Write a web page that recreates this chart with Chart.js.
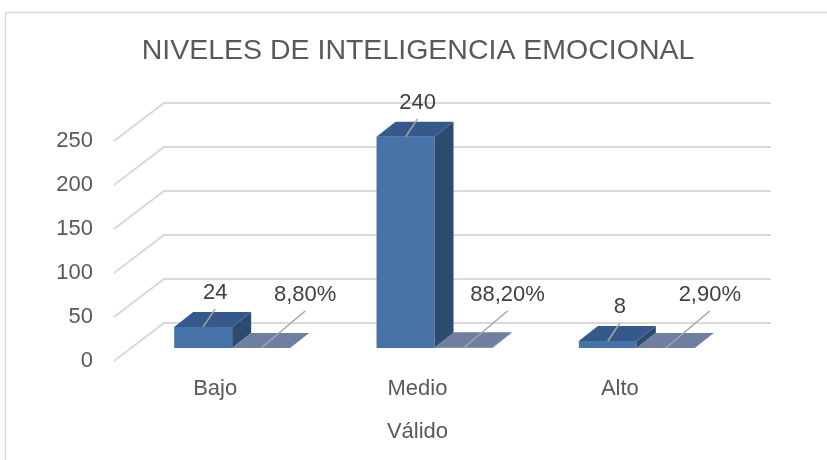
<!DOCTYPE html>
<html>
<head>
<meta charset="utf-8">
<script src="https://cdn.jsdelivr.net/npm/chart.js@4.4.0/dist/chart.umd.min.js"></script>
<style>
  body { margin: 0; background: #fff; }
  #wrap { width: 827px; height: 460px; }
</style>
</head>
<body>
<div id="wrap"><canvas id="chart"></canvas></div>
<script>
const categories = ['Bajo', 'Medio', 'Alto'];
const frecuencia = [24, 240, 8];
const porcentaje = [0.088, 0.882, 0.029];
const yTickValues = [0, 50, 100, 150, 200, 250];
const chartTitle = 'NIVELES DE INTELIGENCIA EMOCIONAL';
const xTitle = 'Válido';

const FONT = "'Liberation Sans', Arial, sans-serif";
// 3D offsets: bar depth, and where the walls sit relative to the bar plane
const DEPTH = { dx: 19, dy: -15 };
const FRONT = { dx: -17, dy: 13 };
const BACK = { dx: 33, dy: -25 };

const faceColors = [
  { top: '#35598A', side: '#2D4A6F' },
  { top: '#6E7FA1', side: '#5A6886' }
];

function poly(ctx, pts, color) {
  ctx.beginPath();
  ctx.moveTo(pts[0][0], pts[0][1]);
  for (let i = 1; i < pts.length; i++) ctx.lineTo(pts[i][0], pts[i][1]);
  ctx.closePath();
  ctx.fillStyle = color;
  ctx.fill();
}

const frame3d = {
  id: 'frame3d',
  beforeDraw(chart) {
    const ctx = chart.ctx;
    ctx.save();
    ctx.fillStyle = '#fff';
    ctx.fillRect(0, 0, chart.width, chart.height);
    ctx.strokeStyle = '#D9D9D9';
    ctx.lineWidth = 1.5;
    ctx.strokeRect(5.5, 12.5, 900, 600);
    // chart title, centred over the back wall
    ctx.font = '28.5px ' + FONT;
    ctx.fillStyle = '#595959';
    ctx.textAlign = 'center';
    ctx.textBaseline = 'middle';
    ctx.fillText(chartTitle, 418, 51);
    ctx.restore();
  },
  beforeDatasetsDraw(chart) {
    const ctx = chart.ctx;
    const y = chart.scales.y;
    const area = chart.chartArea;
    ctx.save();
    ctx.strokeStyle = '#D9D9D9';
    ctx.lineWidth = 2;
    y.ticks.forEach(t => {
      const py = y.getPixelForValue(t.value);
      ctx.beginPath();
      ctx.moveTo(area.left + FRONT.dx, py + FRONT.dy);
      ctx.lineTo(area.left + BACK.dx, py + BACK.dy);
      ctx.lineTo(area.right + BACK.dx, py + BACK.dy);
      ctx.stroke();
    });
    ctx.restore();
  },
  afterDatasetsDraw(chart) {
    const ctx = chart.ctx;
    ctx.save();
    chart.data.datasets.forEach((ds, i) => {
      const meta = chart.getDatasetMeta(i);
      const c = faceColors[i];
      meta.data.forEach(bar => {
        const p = bar.getProps(['x', 'y', 'base', 'width'], true);
        const l = p.x - p.width / 2, r = p.x + p.width / 2;
        const top = Math.min(p.y, p.base), bot = Math.max(p.y, p.base);
        poly(ctx, [[r, top], [r, bot], [r + DEPTH.dx, bot + DEPTH.dy], [r + DEPTH.dx, top + DEPTH.dy]], c.side);
        poly(ctx, [[l, top], [r, top], [r + DEPTH.dx, top + DEPTH.dy], [l + DEPTH.dx, top + DEPTH.dy]], c.top);
      });
    });

    // data labels with leader lines
    ctx.font = '22px ' + FONT;
    ctx.textAlign = 'center';
    ctx.textBaseline = 'middle';
    chart.data.datasets.forEach((ds, i) => {
      const meta = chart.getDatasetMeta(i);
      meta.data.forEach((bar, j) => {
        const p = bar.getProps(['x', 'y', 'base'], true);
        let x0, y0, x1, y1, tx, ty, txt;
        if (i === 0) {
          x0 = p.x; y0 = p.y; x1 = p.x + 12; y1 = p.y - 18;
          tx = p.x + 12; ty = p.y - 34;
          txt = String(ds.data[j]);
        } else {
          x0 = p.x; y0 = p.base; x1 = p.x + 44; y1 = p.base - 37;
          tx = p.x + 44; ty = p.base - 53;
          txt = (ds.data[j] * 100).toFixed(2).replace('.', ',') + '%';
        }
        ctx.strokeStyle = '#A6A6A6';
        ctx.lineWidth = 1.5;
        ctx.beginPath();
        ctx.moveTo(x0, y0);
        ctx.lineTo(x1, y1);
        ctx.stroke();
        ctx.fillStyle = '#404040';
        ctx.fillText(txt, tx, ty);
      });
    });
    ctx.restore();
  },
  afterDraw(chart) {
    const ctx = chart.ctx;
    const area = chart.chartArea;
    ctx.save();
    ctx.font = '22px ' + FONT;
    ctx.fillStyle = '#595959';
    ctx.textAlign = 'center';
    ctx.textBaseline = 'middle';
    ctx.fillText(xTitle, (area.left + area.right) / 2 + FRONT.dx, area.bottom + 84);
    ctx.restore();
  }
};

new Chart(document.getElementById('chart'), {
  type: 'bar',
  data: {
    labels: categories,
    datasets: [
      {
        label: 'Frecuencia',
        data: frecuencia,
        backgroundColor: '#4673A8',
        borderWidth: 0
      },
      {
        label: 'Porcentaje',
        data: porcentaje,
        backgroundColor: '#6E7FA1',
        borderWidth: 0
      }
    ]
  },
  options: {
    responsive: true,
    maintainAspectRatio: false,
    animation: false,
    layout: { padding: { left: 0, right: 89, top: 128, bottom: 0 } },
    datasets: {
      bar: { categoryPercentage: 0.573, barPercentage: 1.0 }
    },
    plugins: {
      legend: { display: false },
      tooltip: { enabled: false },
      title: { display: false }
    },
    scales: {
      x: {
        grid: { display: false, drawTicks: false },
        border: { display: false },
        ticks: {
          color: '#595959',
          font: { family: FONT, size: 22 },
          padding: 28,
          labelOffset: FRONT.dx
        },
        afterFit: s => { s.height = 112; }
      },
      y: {
        min: 0,
        max: 250,
        grid: { display: false, drawTicks: false },
        border: { display: false },
        afterBuildTicks: s => { s.ticks = yTickValues.map(v => ({ value: v })); },
        ticks: {
          color: '#595959',
          font: { family: FONT, size: 22 },
          padding: 38,
          labelOffset: FRONT.dy
        },
        afterFit: s => { s.width = 131; }
      }
    }
  },
  plugins: [frame3d]
});
</script>
</body>
</html>
